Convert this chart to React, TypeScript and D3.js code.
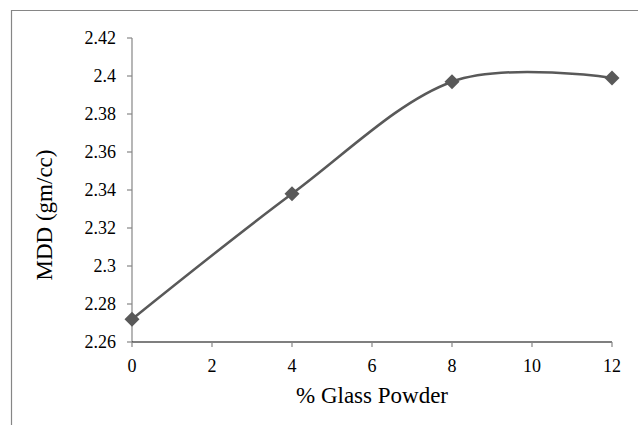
import React from "react";
import * as d3 from "d3";

const glassPowder = [0, 4, 8, 12];
const mdd = [2.272, 2.338, 2.397, 2.399];
const xTicks = [0, 2, 4, 6, 8, 10, 12];
const yTicks = [2.26, 2.28, 2.3, 2.32, 2.34, 2.36, 2.38, 2.4, 2.42];

const W = 638;
const H = 425;
const FONT = "'Liberation Serif', serif";

export default function App() {
  const x = d3.scaleLinear().domain([0, 12]).range([132, 612]);
  const y = d3.scaleLinear().domain([2.26, 2.42]).range([342, 38]);
  const pts: [number, number][] = glassPowder.map((g, i) => [x(g), y(mdd[i])]);
  const line = d3.line().curve(d3.curveCardinal.tension(0))(pts) || "";
  const color = "#595959";
  const r = 7.5;
  return (
    <div style={{ position: "absolute", left: 0, top: 0 }}>
      <svg width={W} height={H} style={{ display: "block", background: "#fff" }}>
        <line x1={11} y1={10.5} x2={W} y2={10.5} stroke="#868686" strokeWidth={1.2} />
        <line x1={11.5} y1={10} x2={11.5} y2={H} stroke="#868686" strokeWidth={1.2} />
        <line x1={132} y1={y(2.42)} x2={132} y2={y(2.26)} stroke="#868686" strokeWidth={1.2} />
        {yTicks.map((t) => (
          <g key={"y" + t}>
            <line x1={127} x2={132} y1={y(t)} y2={y(t)} stroke="#868686" strokeWidth={1.2} />
            <text x={116} y={y(t)} dy="0.35em" textAnchor="end" fontFamily={FONT} fontSize={18} fill="#000">
              {String(t)}
            </text>
          </g>
        ))}
        <line x1={132} y1={342} x2={612} y2={342} stroke="#000" strokeWidth={1.2} />
        {xTicks.map((t) => (
          <g key={"x" + t}>
            <line x1={x(t)} x2={x(t)} y1={342} y2={347} stroke="#868686" strokeWidth={1.2} />
            <text x={x(t)} y={371.5} textAnchor="middle" fontFamily={FONT} fontSize={18} fill="#000">
              {String(t)}
            </text>
          </g>
        ))}
        <text x={372} y={403} textAnchor="middle" fontFamily={FONT} fontSize={23} fill="#000">
          % Glass Powder
        </text>
        <text
          transform="translate(52,215) rotate(-90)"
          textAnchor="middle"
          fontFamily={FONT}
          fontSize={23}
          fill="#000"
        >
          MDD (gm/cc)
        </text>
        <path d={line} fill="none" stroke={color} strokeWidth={2.5} />
        {pts.map(([px, py], i) => (
          <path
            key={"m" + i}
            d={`M${px},${py - r}L${px + r},${py}L${px},${py + r}L${px - r},${py}Z`}
            fill={color}
          />
        ))}
      </svg>
    </div>
  );
}
